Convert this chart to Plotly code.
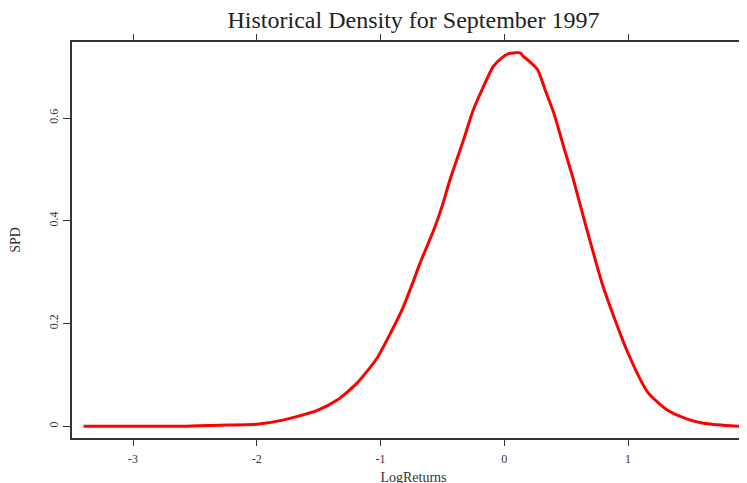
import plotly.graph_objects as go

# density curve
log_returns = [-3.40, -2.60, -2.31, -2.00, -1.79, -1.51, -1.35, -1.19, -1.03,
               -0.92, -0.82, -0.74, -0.68, -0.57, -0.50, -0.44, -0.33, -0.25,
               -0.17, -0.09, -0.01, 0.03, 0.09, 0.13, 0.15, 0.21, 0.27, 0.33,
               0.40, 0.48, 0.56, 0.64, 0.80, 0.99, 1.16, 1.32, 1.48, 1.61,
               1.83, 1.91]
spd = [0.0, 0.0, 0.002, 0.004, 0.012, 0.031, 0.051, 0.084, 0.132,
       0.181, 0.230, 0.279, 0.318, 0.382, 0.430, 0.479, 0.557, 0.616,
       0.660, 0.700, 0.719, 0.725, 0.727, 0.727, 0.721, 0.709, 0.694, 0.655,
       0.610, 0.544, 0.479, 0.407, 0.271, 0.148, 0.066, 0.031, 0.014, 0.006,
       0.001, 0.0]

x_ticks = [-3, -2, -1, 0, 1]
x_ticktext = ["-3", "-2", "-1", "0", "1"]
y_ticks = [0, 0.2, 0.4, 0.6]
y_ticktext = ["0", "0.2", "0.4", "0.6"]

FONT = "Liberation Serif, Times New Roman, serif"
AXIS = "#333333"

fig = go.Figure(go.Scatter(
    x=log_returns, y=spd, mode="lines",
    line=dict(color="#ff0000", width=3, shape="spline", smoothing=0.6),
    showlegend=False,
))

# the page body adds an 8px offset, so the margins are set 8px smaller
fig.update_layout(
    width=747, height=483,
    margin=dict(l=64, r=0, t=34, b=53),
    paper_bgcolor="white", plot_bgcolor="white",
    font=dict(family=FONT, color=AXIS, size=12),
    title=dict(text="Historical Density for September 1997",
               x=0.5, xref="paper", xanchor="center",
               y=0.975, yref="container", yanchor="middle",
               font=dict(family=FONT, size=24, color="#222222")),
    xaxis=dict(range=[-3.493, 2.026], tickvals=x_ticks, ticktext=x_ticktext,
               ticks="outside", ticklen=6, tickcolor=AXIS,
               ticklabelstandoff=3, automargin=False,
               showline=True, linecolor=AXIS, linewidth=1.5,
               mirror="ticks", showgrid=False, zeroline=False,
               title=dict(text="LogReturns", standoff=7,
                          font=dict(family=FONT, size=14))),
    yaxis=dict(range=[-0.0228, 0.748], tickvals=y_ticks, ticktext=y_ticktext,
               tickangle=-90, ticks="outside", ticklen=7, tickcolor=AXIS,
               automargin=False,
               showline=True, linecolor=AXIS, linewidth=1.5,
               showgrid=False, zeroline=False,
               title=dict(text="SPD", standoff=28,
                          font=dict(family=FONT, size=14))),
)

fig.write_html("out.html")
